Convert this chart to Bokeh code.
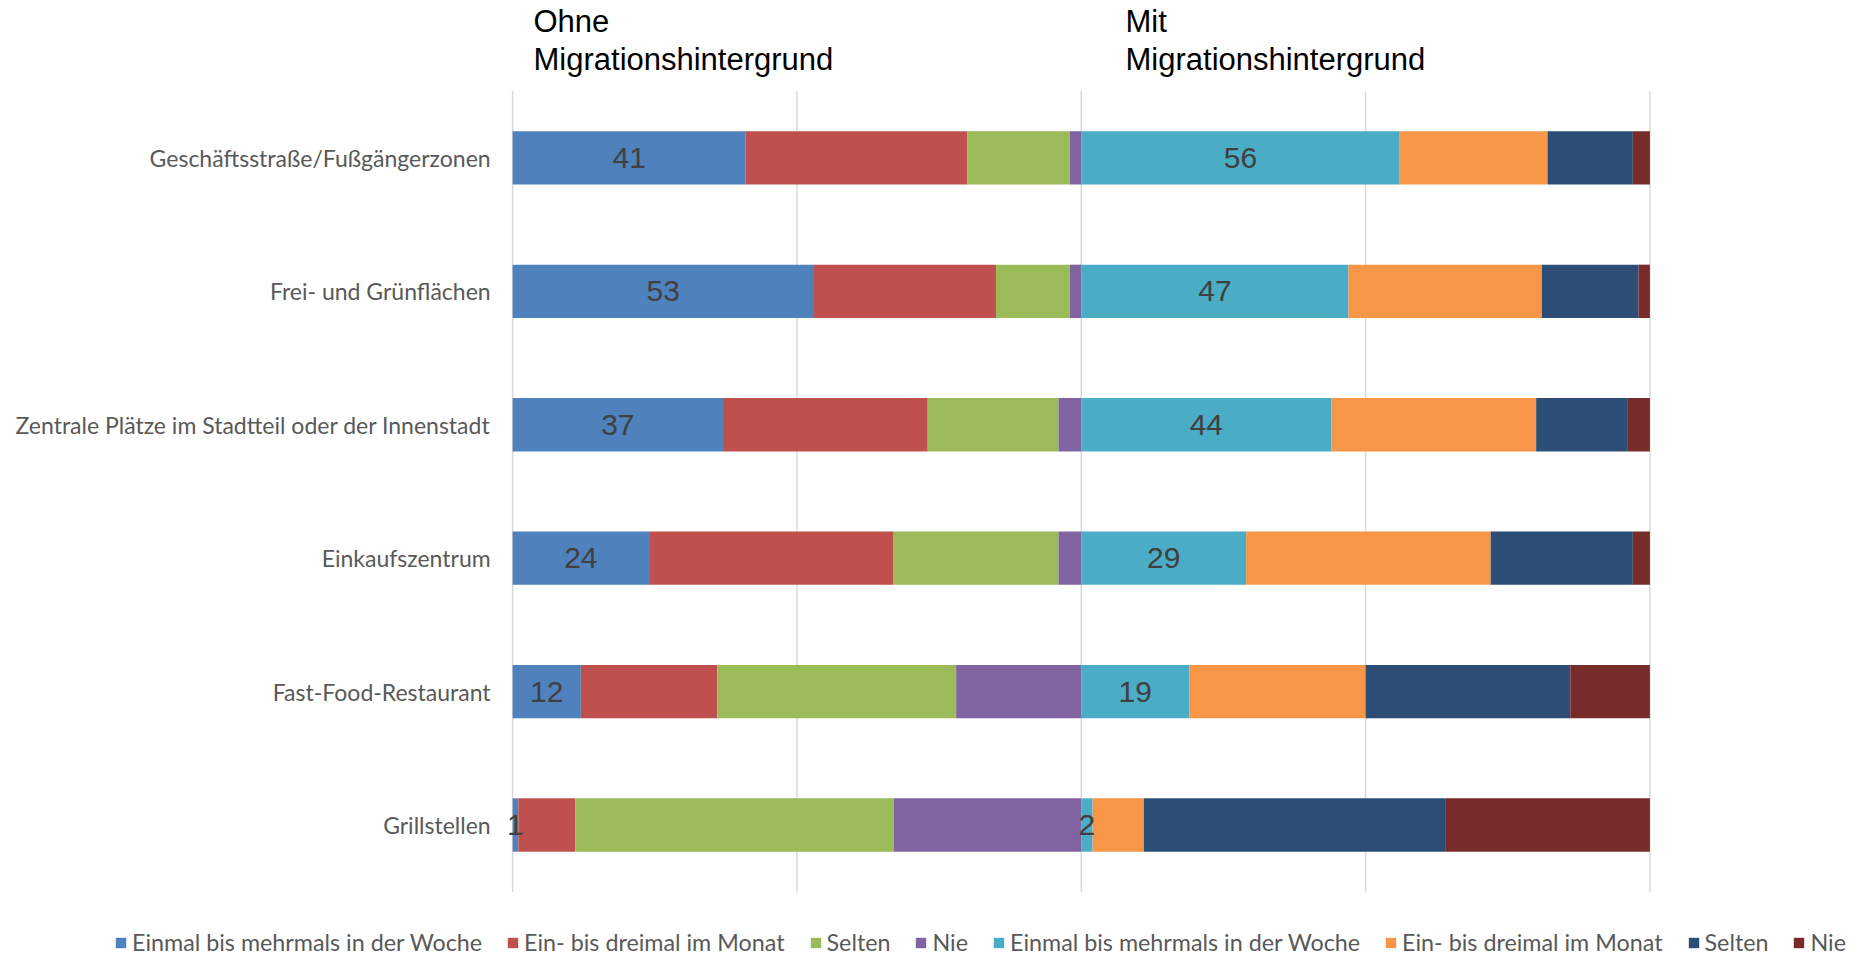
from bokeh.plotting import figure
from bokeh.models import (ColumnDataSource, Range1d, Legend, LegendItem, Label)
from bokeh.core.properties import value
from bokeh.embed import file_html
from bokeh.resources import INLINE

# ---------------- data ----------------
categories = ["Geschäftsstraße/Fußgängerzonen", "Frei- und Grünflächen",
              "Zentrale Plätze im Stadtteil oder der Innenstadt", "Einkaufszentrum",
              "Fast-Food-Restaurant", "Grillstellen"]
series_labels = ["Einmal bis mehrmals in der Woche", "Ein- bis dreimal im Monat", "Selten", "Nie"]
group_titles = [["Ohne", "Migrationshintergrund"], ["Mit", "Migrationshintergrund"]]

ohne_woche = [41, 53, 37, 24, 12, 1]
ohne_monat = [39, 32, 36, 43, 24, 10]
ohne_selten = [18, 13, 23, 29, 42, 56]
ohne_nie = [2, 2, 4, 4, 22, 33]

mit_woche = [56, 47, 44, 29, 19, 2]
mit_monat = [26, 34, 36, 43, 31, 9]
mit_selten = [15, 17, 16, 25, 36, 53]
mit_nie = [3, 2, 4, 3, 14, 36]

group_base = [0, 100]
grid_ticks = [0, 50, 100, 150, 200]
ohne_colors = ["#4F81BD", "#C0504D", "#9BBB59", "#8064A2"]
mit_colors = ["#4BACC6", "#F79646", "#2C4D75", "#772C2A"]

groups = [[ohne_woche, ohne_monat, ohne_selten, ohne_nie],
          [mit_woche, mit_monat, mit_selten, mit_nie]]
group_colors = [ohne_colors, mit_colors]

W, H = 1864, 955
n = len(categories)
ypos = [n - 1 - i for i in range(n)]          # first category on top

# the frame covers the whole canvas; ranges chosen so that the bar area
# sits at the same place as in the original chart
p = figure(width=W, height=H, output_backend="svg", toolbar_location=None,
           x_range=Range1d(-90.06, 237.74), y_range=Range1d(-0.978, n - 1 + 1.18),
           x_axis_location=None, y_axis_location=None,
           min_border=0)
p.outline_line_color = None
p.background_fill_color = "white"
p.border_fill_color = "white"
p.xgrid.visible = False
p.ygrid.visible = False

# vertical grid lines over the category band
p.segment(x0=grid_ticks, x1=grid_ticks, y0=[-0.5] * len(grid_ticks),
          y1=[n - 0.5] * len(grid_ticks), line_color="#D9D9D9", line_width=1.5)

# category labels
p.text(x=[0] * n, y=ypos, text=categories, x_offset=-22,
       text_align="right", text_baseline="middle",
       text_font=value("Lato"), text_font_size="23px", text_color="#595959")

legend_items = []
for gi, (series, colors) in enumerate(zip(groups, group_colors)):
    base = group_base[gi]
    left = [base] * n
    first_src = None
    for si, vals in enumerate(series):
        right = [l + v for l, v in zip(left, vals)]
        src = ColumnDataSource(dict(y=ypos, left=left, right=right, val=vals,
                                    mid=[(l + r) / 2 for l, r in zip(left, right)],
                                    txt=[str(v) for v in vals]))
        r = p.hbar(y="y", left="left", right="right", height=0.4, source=src,
                   fill_color=colors[si], line_color=None)
        legend_items.append(LegendItem(label=series_labels[si], renderers=[r]))
        if si == 0:
            first_src = src
        left = right
    p.text(x="mid", y="y", text="txt", source=first_src,
           text_align="center", text_baseline="middle",
           text_font=value("Liberation Sans"), text_font_size="30px",
           text_color="#404040")

# group titles (two lines each)
title_x = [533, 1125]
for gi, lines in enumerate(group_titles):
    for li, line in enumerate(lines):
        p.add_layout(Label(x=title_x[gi], y=H - 21 - 38 * li, x_units="screen", y_units="screen",
                           text=line, text_font="Liberation Sans", text_font_size="31px",
                           text_color="black", text_baseline="alphabetic"))

legend = Legend(items=legend_items, orientation="horizontal", location=(114, -1),
                glyph_width=13, glyph_height=13, label_standoff=5, spacing=24,
                label_text_font="Lato", label_text_font_size="23.3px",
                label_text_color="#595959", padding=0, margin=0,
                border_line_color=None, background_fill_alpha=0)
p.add_layout(legend)

open("out.html", "w").write(file_html(p, INLINE))
